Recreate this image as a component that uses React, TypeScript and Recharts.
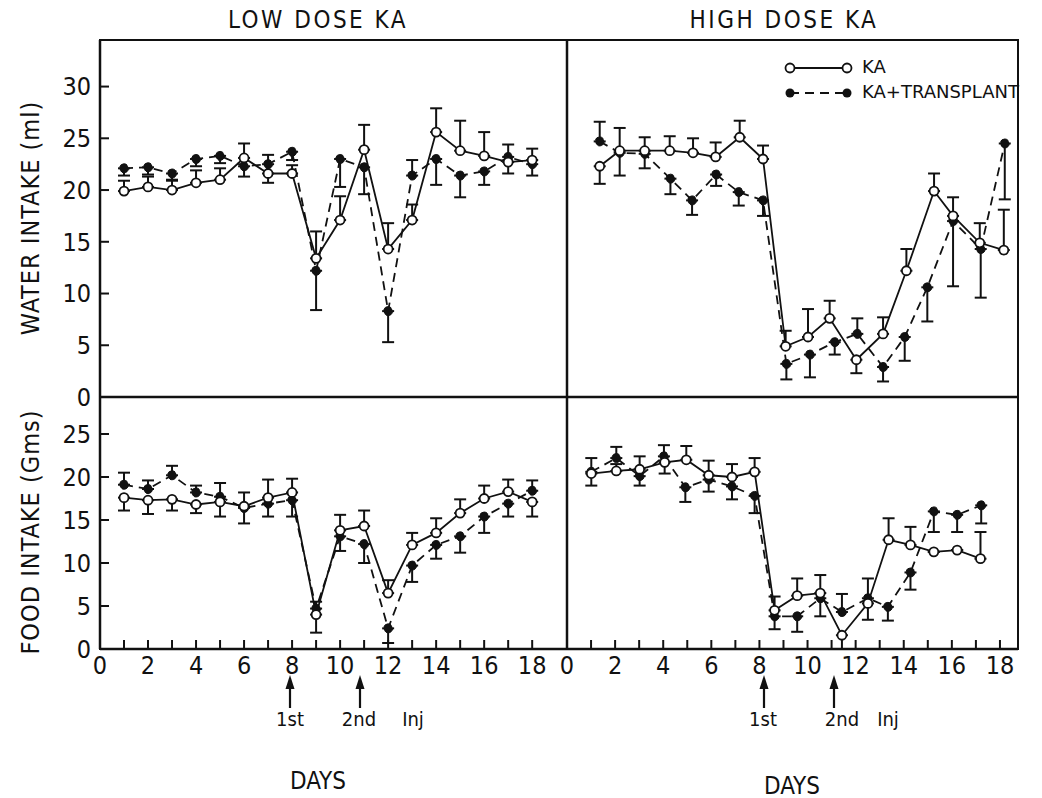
import React from 'react';
import { LineChart, Line, XAxis, YAxis, ErrorBar } from 'recharts';

const FONT = "'DejaVu Sans Condensed', 'Liberation Sans Narrow', 'DejaVu Sans', sans-serif";
const INK = '#111';

// day positions (x values)
const lowDays = [1, 2, 3, 4, 5, 6, 7, 8, 9, 10, 11, 12, 13, 14, 15, 16, 17, 18];
const hiWaterKADays = [1.36, 2.19, 3.23, 4.27, 5.24, 6.18, 7.18, 8.15, 9.09, 10.02, 10.92, 12.03, 13.14, 14.11, 15.26, 16.05, 17.16, 18.16];
const hiWaterTxDays = [1.36, 2.19, 3.23, 4.3, 5.2, 6.2, 7.14, 8.15, 9.12, 10.1, 11.13, 12.07, 13.14, 14.04, 14.98, 16.05, 17.2, 18.2];
const hiFoodKADays = [1.01, 2.05, 3.02, 4.06, 4.96, 5.89, 6.86, 7.8, 8.63, 9.57, 10.53, 11.43, 12.51, 13.37, 14.28, 15.25, 16.22, 17.19];
const hiFoodTxDays = [1.01, 2.05, 3.02, 4.03, 4.92, 5.89, 6.86, 7.8, 8.63, 9.57, 10.53, 11.43, 12.51, 13.34, 14.28, 15.25, 16.22, 17.22];

// water intake (ml), low dose
const lowWaterKA = [19.9, 20.3, 20.0, 20.7, 21.0, 23.1, 21.6, 21.6, 13.4, 17.1, 23.9, 14.3, 17.1, 25.6, 23.8, 23.3, 22.7, 22.9];
const lowWaterKAErr = [[0, 1.0], [0, 1.0], [0, 1.0], [0, 1.2], [0, 1.1], [0, 1.4], [0.9, 0], [0, 0.8], [0, 2.6], [0, 2.3], [0, 2.4], [0, 2.5], [0, 1.5], [0, 2.3], [0, 2.9], [0, 2.3], [1.1, 0], [0, 1.1]];
const lowWaterTx = [22.1, 22.2, 21.6, 23.0, 23.3, 22.3, 22.5, 23.7, 12.2, 23.0, 22.2, 8.3, 21.4, 23.0, 21.4, 21.8, 23.2, 22.5];
const lowWaterTxErr = [[0.7, 0], [0.7, 0], [0.7, 0], [0.7, 0], [0.7, 0], [1.0, 0], [0, 0.9], [0.8, 0], [3.8, 0], [2.7, 0], [2.6, 0], [3.0, 0], [0, 1.5], [2.5, 0], [2.1, 0], [1.3, 0], [0, 1.2], [1.1, 0]];

// water intake (ml), high dose
const hiWaterKA = [22.3, 23.8, 23.8, 23.8, 23.6, 23.2, 25.1, 23.0, 4.9, 5.8, 7.6, 3.6, 6.1, 12.2, 19.9, 17.5, 14.9, 14.2];
const hiWaterKAErr = [[1.7, 0], [0, 2.2], [0, 1.3], [0, 1.4], [0, 1.4], [0, 1.4], [0, 1.6], [0, 1.3], [0, 1.5], [0, 2.7], [0, 1.7], [1.3, 0], [0, 1.6], [0, 2.1], [0, 1.7], [0, 1.8], [0, 1.9], [0, 3.9]];
const hiWaterTx = [24.7, 23.6, 23.5, 21.1, 19.0, 21.5, 19.8, 19.0, 3.2, 4.1, 5.3, 6.1, 2.9, 5.8, 10.6, 17.0, 14.3, 24.5];
const hiWaterTxErr = [[0, 1.9], [2.2, 0], [1.4, 0], [1.5, 0], [1.4, 0], [1.1, 0], [1.3, 0], [1.5, 0], [1.5, 0], [2.2, 0], [1.2, 0], [0, 1.5], [1.4, 0], [2.3, 0], [3.3, 0], [6.3, 0], [4.7, 0], [5.4, 0]];

// food intake (Gms), low dose
const lowFoodKA = [17.6, 17.3, 17.4, 16.8, 17.1, 16.6, 17.6, 18.2, 4.0, 13.8, 14.3, 6.5, 12.1, 13.5, 15.8, 17.5, 18.3, 17.1];
const lowFoodKAErr = [[1.5, 0], [1.6, 0], [1.3, 0], [1.0, 0], [1.7, 0], [0, 1.6], [0, 2.1], [0, 1.6], [2.1, 0], [0, 1.8], [0, 1.8], [0, 1.5], [0, 1.4], [0, 1.7], [0, 1.6], [0, 1.5], [0, 1.4], [1.7, 0]];
const lowFoodTx = [19.1, 18.6, 20.2, 18.2, 17.7, 16.4, 16.9, 17.3, 4.7, 13.1, 12.2, 2.4, 9.7, 12.1, 13.1, 15.4, 16.9, 18.4];
const lowFoodTxErr = [[0, 1.4], [0, 1.0], [0, 1.1], [0, 0.8], [0, 1.6], [1.8, 0], [1.5, 0], [1.9, 0], [0, 0.8], [1.7, 0], [2.2, 0], [1.7, 0], [1.9, 0], [1.6, 0], [1.9, 0], [1.9, 0], [1.5, 0], [0, 1.2]];

// food intake (Gms), high dose
const hiFoodKA = [20.4, 20.7, 20.9, 21.7, 22.0, 20.2, 20.0, 20.6, 4.5, 6.2, 6.5, 1.6, 5.3, 12.7, 12.1, 11.3, 11.5, 10.5];
const hiFoodKAErr = [[0, 1.8], [0, 0.8], [0, 1.5], [1.3, 0], [0, 1.6], [0, 1.7], [0, 1.5], [0, 1.6], [0, 1.6], [0, 2.0], [0, 2.1], [1.6, 0], [0, 2.9], [0, 2.5], [0, 2.1], [0, 0], [0, 0], [0, 3.1]];
const hiFoodTx = [20.6, 22.2, 20.1, 22.4, 18.8, 19.7, 18.9, 17.8, 3.8, 3.8, 5.9, 4.3, 5.9, 4.9, 8.9, 16.0, 15.6, 16.7];
const hiFoodTxErr = [[1.6, 0], [0, 1.3], [1.1, 0], [0, 1.3], [1.7, 0], [1.4, 0], [1.5, 0], [2.0, 0], [1.5, 0], [1.8, 0], [2.1, 0], [0, 2.1], [2.5, 0], [1.6, 0], [2.0, 0], [2.4, 0], [2.0, 0], [2.1, 0]];

const xTicks = [0, 1, 2, 3, 4, 5, 6, 7, 8, 9, 10, 11, 12, 13, 14, 15, 16, 17, 18];
const waterTicks = [0, 5, 10, 15, 20, 25, 30];
const foodTicks = [0, 5, 10, 15, 20, 25];

const toPoints = (days: number[], vals: number[], errs: number[][]) =>
  days.map((d, i) => ({ day: d, v: vals[i], err: errs[i] }));

interface PanelProps {
  left: number;
  top: number;
  plotW: number;
  plotH: number;
  xMax: number;
  yMax: number;
  yTicks: number[];
  yLabels: boolean;
  xLabels: boolean;
  ka: any[];
  tx: any[];
}

const YW = 50;
const XH = 40;

function Panel({ left, top, plotW, plotH, xMax, yMax, yTicks, yLabels, xLabels, ka, tx }: PanelProps) {
  const tickStyle = { fontSize: 25, fill: INK, fontFamily: FONT };
  return (
    <div style={{ position: 'absolute', left: left - YW, top }}>
      <LineChart
        width={plotW + YW}
        height={plotH + XH}
        margin={{ top: 0, right: 0, bottom: 0, left: 0 }}
        style={{ overflow: 'visible' }}
      >
        <XAxis
          type="number"
          dataKey="day"
          domain={[0, xMax]}
          ticks={xTicks}
          interval={0}
          allowDataOverflow
          height={XH}
          axisLine={{ stroke: INK, strokeWidth: 2.5 }}
          tickLine={{ stroke: INK, strokeWidth: 2 }}
          tickSize={-9}
          tickMargin={16}
          tick={xLabels ? tickStyle : false}
          tickFormatter={(v: number) => (v % 2 === 0 ? String(v) : '')}
        />
        <YAxis
          type="number"
          dataKey="v"
          domain={[0, yMax]}
          ticks={yTicks}
          interval={0}
          allowDataOverflow
          width={YW}
          axisLine={{ stroke: INK, strokeWidth: 2.5 }}
          tickLine={{ stroke: INK, strokeWidth: 2 }}
          tickSize={-9}
          tickMargin={18}
          tick={yLabels ? tickStyle : false}
        />
        <Line
          data={tx}
          dataKey="v"
          type="linear"
          stroke={INK}
          strokeWidth={1.8}
          strokeDasharray="9 6"
          dot={{ r: 4.5, fill: INK, stroke: INK, strokeWidth: 1 }}
          isAnimationActive={false}
        >
          <ErrorBar dataKey="err" direction="y" width={6} stroke={INK} strokeWidth={2} />
        </Line>
        <Line
          data={ka}
          dataKey="v"
          type="linear"
          stroke={INK}
          strokeWidth={1.8}
          dot={{ r: 4.5, fill: '#fff', stroke: INK, strokeWidth: 1.8 }}
          isAnimationActive={false}
        >
          <ErrorBar dataKey="err" direction="y" width={6} stroke={INK} strokeWidth={2} />
        </Line>
      </LineChart>
    </div>
  );
}

const txt = (x: number, y: number, s: string, size: number, extra: React.CSSProperties = {}) => (
  <div
    style={{
      position: 'absolute',
      left: x,
      top: y,
      transform: 'translate(-50%, -50%)',
      fontFamily: FONT,
      fontSize: size,
      color: INK,
      whiteSpace: 'nowrap',
      ...extra,
    }}
  >
    {s}
  </div>
);

function Arrow({ x }: { x: number }) {
  return (
    <g>
      <line x1={x} y1={708} x2={x} y2={684} stroke={INK} strokeWidth={2.2} />
      <polygon points={`${x - 4.5},${689} ${x + 4.5},${689} ${x},${675}`} fill={INK} />
    </g>
  );
}

export default function App() {
  return (
    <div style={{ position: 'absolute', left: 0, top: 0, width: 1042, height: 798, background: '#fff' }}>
      <Panel left={100} top={40} plotW={467} plotH={357} xMax={19.45} yMax={34.5} yTicks={waterTicks}
        yLabels xLabels={false}
        ka={toPoints(lowDays, lowWaterKA, lowWaterKAErr)} tx={toPoints(lowDays, lowWaterTx, lowWaterTxErr)} />
      <Panel left={567} top={40} plotW={451} plotH={357} xMax={18.75} yMax={34.5} yTicks={waterTicks}
        yLabels={false} xLabels={false}
        ka={toPoints(hiWaterKADays, hiWaterKA, hiWaterKAErr)} tx={toPoints(hiWaterTxDays, hiWaterTx, hiWaterTxErr)} />
      <Panel left={100} top={397} plotW={467} plotH={252} xMax={19.45} yMax={29.3} yTicks={foodTicks}
        yLabels xLabels
        ka={toPoints(lowDays, lowFoodKA, lowFoodKAErr)} tx={toPoints(lowDays, lowFoodTx, lowFoodTxErr)} />
      <Panel left={567} top={397} plotW={451} plotH={252} xMax={18.75} yMax={29.3} yTicks={foodTicks}
        yLabels={false} xLabels
        ka={toPoints(hiFoodKADays, hiFoodKA, hiFoodKAErr)} tx={toPoints(hiFoodTxDays, hiFoodTx, hiFoodTxErr)} />

      {/* outer frame */}
      <div style={{ position: 'absolute', left: 99, top: 39, width: 920, height: 611, border: `2.5px solid ${INK}`, boxSizing: 'border-box', pointerEvents: 'none' }} />

      <svg width={1042} height={798} style={{ position: 'absolute', left: 0, top: 0, pointerEvents: 'none' }}>
        {/* legend */}
        <line x1={790} y1={68} x2={847} y2={68} stroke={INK} strokeWidth={1.8} />
        <circle cx={790} cy={68} r={4.5} fill="#fff" stroke={INK} strokeWidth={1.8} />
        <circle cx={847} cy={68} r={4.5} fill="#fff" stroke={INK} strokeWidth={1.8} />
        <line x1={790} y1={93} x2={847} y2={93} stroke={INK} strokeWidth={1.8} strokeDasharray="9 6" />
        <circle cx={790} cy={93} r={4.5} fill={INK} />
        <circle cx={847} cy={93} r={4.5} fill={INK} />
        <Arrow x={290} />
        <Arrow x={360} />
        <Arrow x={764} />
        <Arrow x={834} />
      </svg>

      {txt(318, 20, 'LOW DOSE KA', 24, { letterSpacing: 2.5 })}
      {txt(784, 20, 'HIGH DOSE KA', 24, { letterSpacing: 2.5 })}
      {txt(30, 218, 'WATER INTAKE (ml)', 25, { transform: 'translate(-50%, -50%) rotate(-90deg)', letterSpacing: 1 })}
      {txt(30, 532, 'FOOD INTAKE (Gms)', 25, { transform: 'translate(-50%, -50%) rotate(-90deg)', letterSpacing: 1 })}
      <div style={{ position: 'absolute', left: 862, top: 56, fontFamily: "'DejaVu Sans', sans-serif", fontSize: 18, color: INK }}>KA</div>
      <div style={{ position: 'absolute', left: 862, top: 81, fontFamily: "'DejaVu Sans', sans-serif", fontSize: 18, color: INK, whiteSpace: 'nowrap' }}>KA+TRANSPLANT</div>

      {txt(290, 719, '1st', 20)}
      {txt(359, 719, '2nd', 20)}
      {txt(413, 719, 'Inj', 20)}
      {txt(763, 719, '1st', 20)}
      {txt(842, 719, '2nd', 20)}
      {txt(888, 719, 'Inj', 20)}
      {txt(318, 781, 'DAYS', 24)}
      {txt(792, 786, 'DAYS', 24)}
    </div>
  );
}
